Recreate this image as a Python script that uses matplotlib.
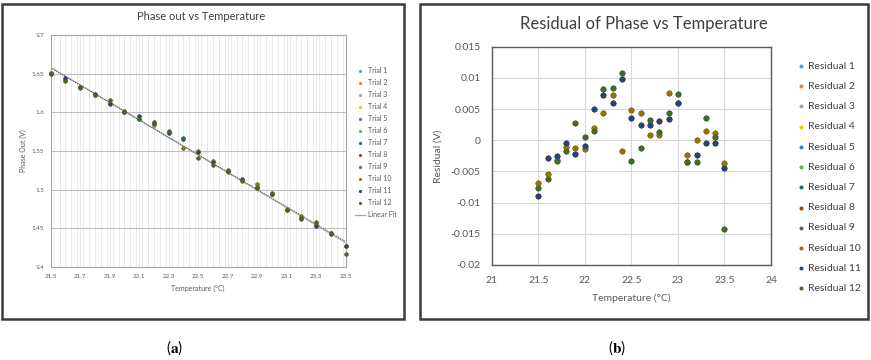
import numpy as np
import matplotlib.pyplot as plt
from matplotlib.patches import Rectangle
from matplotlib.ticker import FuncFormatter, MultipleLocator, FixedLocator

plt.rcParams['font.family'] = ['Lato', 'DejaVu Sans']
plt.rcParams['mathtext.fontset'] = 'stix'

# temperatures (deg C) of each measurement
temps = [21.5, 21.6, 21.7, 21.8, 21.9, 22.0, 22.1, 22.2, 22.3, 22.4, 22.5,
         22.6, 22.7, 22.8, 22.9, 23.0, 23.1, 23.2, 23.3, 23.4, 23.5]

# phase out (V), the trials that are visible on top
trial10_phase = [1.6511, 1.6413, 1.6322, 1.6229, 1.6115, 1.6000, 1.5920, 1.5831, 1.5746, 1.5544, 1.5496,
                 1.5377, 1.5229, 1.5116, 1.5070, 1.4941, 1.4744, 1.4655, 1.4556, 1.4440, 1.4278]
trial11_phase = [1.6491, 1.6438, 1.6328, 1.6235, 1.6105, 1.6005, 1.5950, 1.5859, 1.5734, 1.5659, 1.5483,
                 1.5359, 1.5245, 1.5139, 1.5028, 1.4940, 1.4733, 1.4631, 1.4536, 1.4423, 1.4270]
trial12_phase = [1.6504, 1.6405, 1.6320, 1.6223, 1.6154, 1.6019, 1.5915, 1.5869, 1.5757, 1.5669, 1.5414,
                 1.5321, 1.5254, 1.5121, 1.5037, 1.4955, 1.4733, 1.4620, 1.4576, 1.4434, 1.4173]

# residuals (V)
resid10 = [-0.0069, -0.0054, -0.0031, -0.0011, -0.0012, -0.0014, 0.0020, 0.0044, 0.0072, -0.0017, 0.0049,
           0.0043, 0.0008, 0.0008, 0.0076, 0.0060, -0.0024, 0.0000, 0.0015, 0.0012, -0.0037]
resid11 = [-0.0089, -0.0029, -0.0025, -0.0005, -0.0022, -0.0009, 0.0050, 0.0072, 0.0060, 0.0098, 0.0036,
           0.0025, 0.0024, 0.0031, 0.0034, 0.0059, -0.0035, -0.0024, -0.0005, -0.0005, -0.0045]
resid12 = [-0.0076, -0.0062, -0.0033, -0.0017, 0.0027, 0.0005, 0.0015, 0.0082, 0.0083, 0.0108, -0.0033,
           -0.0013, 0.0033, 0.0013, 0.0043, 0.0074, -0.0035, -0.0035, 0.0035, 0.0006, -0.0142]

# trials 1-9 sit underneath trials 10-12
hidden_source = [10, 11, 12, 10, 11, 12, 10, 11, 12]

fit_temp = [21.5, 23.5]
fit_phase = [1.658, 1.4315]

phase_xticks = [21.5, 21.7, 21.9, 22.1, 22.3, 22.5, 22.7, 22.9, 23.1, 23.3, 23.5]

colors = ['#5B9BD5', '#ED7D31', '#A5A5A5', '#FFC000', '#4472C4', '#70AD47',
          '#255E91', '#9E480E', '#636363', '#997300', '#264478', '#43682B']

phase_by_trial = {10: trial10_phase, 11: trial11_phase, 12: trial12_phase}
resid_by_trial = {10: resid10, 11: resid11, 12: resid12}
for i, src in enumerate(hidden_source):
    phase_by_trial[i + 1] = phase_by_trial[src]
    resid_by_trial[i + 1] = resid_by_trial[src]

txt = '#595959'
W, H = 871, 360
fig = plt.figure(figsize=(W / 100, H / 100), dpi=100)


def px_axes(x0, y0, x1, y1):
    return fig.add_axes([x0 / W, 1 - y1 / H, (x1 - x0) / W, (y1 - y0) / H])


def fmt(v, pos):
    return '%g' % round(v, 4)


# frames around both panels
for x0, x1 in [(2, 404), (420, 868)]:
    fig.patches.append(Rectangle((x0 / W, 1 - 319 / H), (x1 - x0) / W, 315 / H,
                                 transform=fig.transFigure, fill=False,
                                 edgecolor='#3a3a3a', linewidth=1.8))

# ---- panel (a)
ax = px_axes(50.7, 35, 345.7, 267)
for k in range(1, 13):
    ax.scatter(temps, phase_by_trial[k], s=8, color=colors[k - 1], label='Trial %d' % k,
               zorder=3, linewidths=0, clip_on=False)
ax.plot(fit_temp, fit_phase, color='#a5a5a5', lw=0.9, label='Linear Fit', zorder=2)
all_t = np.tile(temps, 3)
all_p = np.concatenate([trial10_phase, trial11_phase, trial12_phase])
m, b = np.polyfit(all_t, all_p, 1)
ax.plot(fit_temp, [m * t + b for t in fit_temp], color='#333333', lw=0.6, ls=':', zorder=2)
ax.set_xlim(21.5, 23.5)
ax.set_ylim(1.4, 1.7)
ax.xaxis.set_major_locator(FixedLocator(phase_xticks))
ax.xaxis.set_minor_locator(MultipleLocator(0.04))
ax.yaxis.set_major_locator(MultipleLocator(0.05))
ax.xaxis.set_major_formatter(FuncFormatter(fmt))
ax.yaxis.set_major_formatter(FuncFormatter(fmt))
ax.grid(which='major', axis='y', color='#bfbfbf', lw=0.8)
ax.grid(which='both', axis='x', color='#e6e6e6', lw=0.6)
ax.set_axisbelow(True)
ax.tick_params(which='both', length=0, labelsize=4.5, labelcolor=txt, pad=5)
for sp in ax.spines.values():
    sp.set_color('#a6a6a6')
    sp.set_linewidth(0.8)
ax.set_xlabel('Temperature (°C)', fontsize=5, color=txt, labelpad=4)
ax.set_ylabel('Phase Out (V)', fontsize=5, color=txt, labelpad=3)
fig.text(201 / W, 1 - 17 / H, 'Phase out vs Temperature', ha='center', va='center',
         fontsize=8, color='#404040')
ax.legend(loc='upper left', bbox_to_anchor=(349 / W, 1 - 61 / H), bbox_transform=fig.transFigure,
          frameon=False, fontsize=5, labelcolor=txt, handlelength=1.4, handletextpad=0.5,
          labelspacing=0.72, markerscale=0.8)

# ---- panel (b)
ax2 = px_axes(491.7, 46.7, 771, 265)
for k in range(1, 13):
    ax2.scatter(temps, resid_by_trial[k], s=17, color=colors[k - 1], label='Residual %d' % k,
                zorder=3, linewidths=0)
ax2.set_xlim(21, 24)
ax2.set_ylim(-0.02, 0.015)
ax2.xaxis.set_major_locator(MultipleLocator(0.5))
ax2.yaxis.set_major_locator(MultipleLocator(0.005))
ax2.xaxis.set_major_formatter(FuncFormatter(fmt))
ax2.yaxis.set_major_formatter(FuncFormatter(fmt))
ax2.grid(color='#d9d9d9', lw=0.8)
ax2.set_axisbelow(True)
ax2.tick_params(length=0, labelsize=7.5, labelcolor=txt, pad=8)
for sp in ax2.spines.values():
    sp.set_color('#595959')
    sp.set_linewidth(1.0)
ax2.set_xlabel('Temperature (°C)', fontsize=7.5, color=txt, labelpad=6)
ax2.set_ylabel('Residual (V)', fontsize=7.5, color=txt, labelpad=6)
fig.text(644 / W, 1 - 24 / H, 'Residual of Phase vs Temperature', ha='center', va='center',
         fontsize=12, color='#404040')
ax2.legend(loc='upper left', bbox_to_anchor=(789 / W, 1 - 52 / H), bbox_transform=fig.transFigure,
           frameon=False, fontsize=7.5, labelcolor='#404040', handlelength=0.5, handletextpad=0.4,
           labelspacing=1.05, markerscale=0.7)

# captions
fig.text(175 / W, 1 - 348 / H, r'($\mathbf{a}$)', ha='center', va='center', fontsize=11)
fig.text(617 / W, 1 - 348 / H, r'($\mathbf{b}$)', ha='center', va='center', fontsize=11)

fig.savefig('out.png', dpi=100)
